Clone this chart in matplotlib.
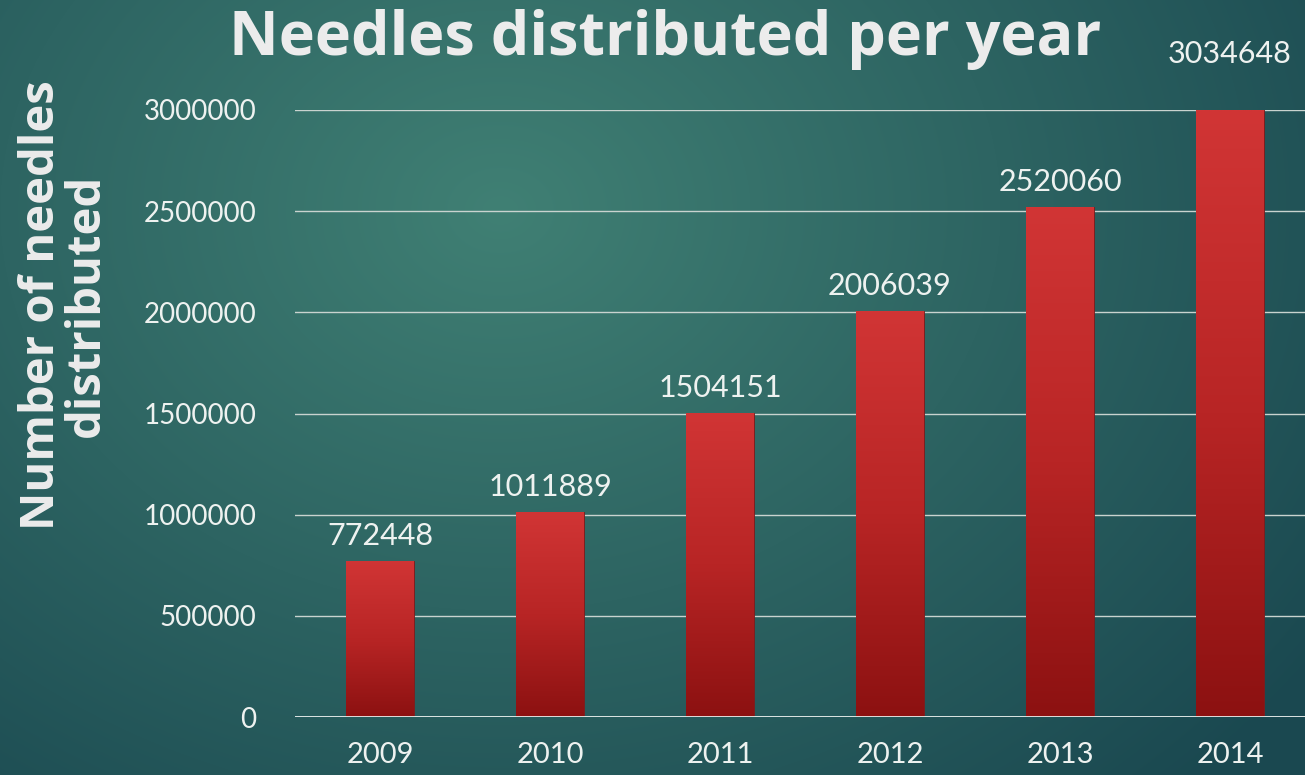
import numpy as np
import matplotlib
matplotlib.use("Agg")
import matplotlib.pyplot as plt
from matplotlib.colors import LinearSegmentedColormap

years = ["2009", "2010", "2011", "2012", "2013", "2014"]
needles = [772448, 1011889, 1504151, 2006039, 2520060, 3034648]
yticks = [0, 500000, 1000000, 1500000, 2000000, 2500000, 3000000]

W, H = 1305, 775
fig = plt.figure(figsize=(W / 100, H / 100), dpi=100)

# background radial gradient
bg = fig.add_axes([0, 0, 1, 1], zorder=0)
yy, xx = np.mgrid[0:H, 0:W]
cx, cy = 500, 210
d = np.sqrt(((xx - cx) / 1000.0) ** 2 + ((yy - cy) / 800.0) ** 2)
d = np.clip(d, 0, 1)
c_in = np.array([0x40, 0x80, 0x74]) / 255
c_out = np.array([0x1a, 0x48, 0x50]) / 255
img = c_in[None, None, :] * (1 - d[..., None]) + c_out[None, None, :] * d[..., None]
bg.imshow(img, aspect="auto", extent=[0, W, H, 0])
bg.axis("off")

ax = fig.add_axes([295 / W, 1 - 717 / H, 1 - 295 / W, (717 - 110) / H], zorder=1)
ax.set_facecolor("none")
x = np.arange(len(years))
bars = ax.bar(x, needles, width=0.4, color="#c0302f", edgecolor="#7a1a1a", linewidth=0.6, zorder=3)

cmap = LinearSegmentedColormap.from_list("redgrad", ["#8c1111", "#b82525", "#d13535"])
grad = np.linspace(0, 1, 256).reshape(-1, 1)
for b in bars:
    bx, by = b.get_x(), b.get_y()
    bw, bh = b.get_width(), b.get_height()
    im = ax.imshow(grad, cmap=cmap, origin="lower", aspect="auto",
                   extent=[bx, bx + bw, 0, min(bh, 3000000)], zorder=3.5)
    im.set_clip_path(b)

ax.set_xlim(-0.5, (W - 380) / 170)
ax.set_ylim(0, 3000000)
ax.set_yticks(yticks)
ax.set_yticklabels([str(v) for v in yticks])
ax.set_xticks(x)
ax.set_xticklabels(years)
ax.grid(axis="y", color="#c9d3cf", linewidth=1.0, zorder=1)
ax.axhline(0, color="#e8eeec", linewidth=1.3, zorder=4)
for s in ax.spines.values():
    s.set_visible(False)
ax.tick_params(axis="both", length=0, colors="#eef2f0", labelsize=20)
ax.tick_params(axis="y", pad=28)
ax.tick_params(axis="x", pad=18)
for lab in ax.get_xticklabels():
    lab.set_fontfamily("Lato")
    lab.set_fontsize(21)
for lab in ax.get_yticklabels():
    lab.set_fontfamily("Lato")

for i, v in enumerate(needles):
    off = 30 if v > 3000000 else 8
    ax.annotate(str(v), (x[i], min(v, 3000000)), xytext=(0, off), textcoords="offset points",
                ha="center", va="bottom", fontsize=22, color="#eef2f0", family="Lato",
                annotation_clip=False, zorder=5)

fig.text(665 / W, 1 - 40 / H, "Needles distributed per year", ha="center", va="center",
         fontsize=44, fontweight="bold", color="#ececec", family="Open Sans")
fig.text(64 / W, 1 - 305 / H, "Number of needles\ndistributed", ha="center", va="center",
         rotation=90, fontsize=34, fontweight="bold", color="#ececec", family="Open Sans",
         linespacing=0.95)

fig.savefig("out.png", dpi=100)
